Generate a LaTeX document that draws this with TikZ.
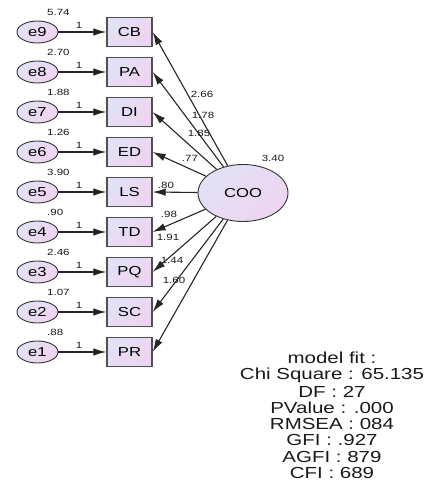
\documentclass[tikz,border=0pt]{standalone}
\usepackage{fontspec}
\setmainfont{Liberation Sans}
\usetikzlibrary{shapes.geometric,arrows.meta}
\newcommand{\wx}[1]{\scalebox{1.28}[1]{#1}}
\definecolor{boxA}{RGB}{226,226,246}
\definecolor{boxB}{RGB}{238,212,240}
\definecolor{edgeG}{RGB}{80,80,80}
\tikzset{
  obs/.style={draw=edgeG, line width=1.3pt, rectangle, minimum width=45pt, minimum height=29pt, inner sep=0pt,
    shading=axis, left color=boxA, right color=boxB, shading angle=45, font=\fontsize{13}{13}\selectfont},
  err/.style={draw=black!80, line width=0.9pt, ellipse, minimum width=41pt, minimum height=22pt, inner sep=0pt,
    shading=axis, left color=boxA, right color=boxB, shading angle=45, font=\fontsize{13}{13}\selectfont},
  lat/.style={draw=black!80, line width=0.9pt, ellipse, minimum width=90pt, minimum height=57pt, inner sep=0pt,
    shading=axis, left color=boxA, right color=boxB, shading angle=45, font=\fontsize{13}{13}\selectfont},
  arr/.style={draw=black!85, line width=1.1pt, -{Latex[length=13pt,width=7.5pt]}},
  small/.style={font=\fontsize{9}{9}\selectfont, inner sep=0pt, text=black!90},
  fit/.style={font=\fontsize{16}{16}\selectfont, inner sep=0pt, text=black!90},
}
\begin{document}
\begin{tikzpicture}[x=1pt,y=-1pt]
\useasboundingbox (0,0) rectangle (427,481);
% rows
\foreach \name/\lab/\ename/\elab/\var/\k in {CB/CB/e9/e9/5.74/0, PA/PA/e8/e8/2.70/1, DI/DI/e7/e7/1.88/2, ED/ED/e6/e6/1.26/3, LS/LS/e5/e5/3.90/4, TD/TD/e4/e4/.90/5, PQ/PQ/e3/e3/2.46/6, SC/SC/e2/e2/1.07/7, PR/PR/e1/e1/.88/8}{
  \node[obs] (\name) at (129.5, 32+40*\k) {\wx{\lab}};
  \node[err] (\ename) at (37.5, 32+40*\k) {\wx{\elab}};
  \node[small, anchor=west] (v\ename) at (47, 12+40*\k) {\wx{\var}};
  \node[small] (one\ename) at (79, 25+40*\k) {\wx{1}};
  \draw[arr] (\ename) -- (\name);
}
\node[lat] (COO) at (243,193) {\wx{COO}};
\node[small] (vCOO) at (273,158) {\wx{3.40}};
\foreach \t in {CB,PA,DI,ED,LS,TD,PQ,SC,PR}{
  \draw[arr] (COO) -- (\t.east);
}
\node[small] (l1) at (202,94) {\wx{2.66}};
\node[small] (l2) at (203,115) {\wx{1.78}};
\node[small] (l3) at (199,133) {\wx{1.85}};
\node[small] (l4) at (190,158) {\wx{.77}};
\node[small] (l5) at (166,185) {\wx{.80}};
\node[small] (l6) at (169,214) {\wx{.98}};
\node[small] (l7) at (168,237) {\wx{1.91}};
\node[small] (l8) at (172,260) {\wx{1.44}};
\node[small] (l9) at (174,280) {\wx{1.60}};
% model fit
\node[fit] (m0) at (332,358) {\wx{model fit :}};
\node[fit] (m1) at (332,375) {\wx{Chi Square : 65.135}};
\node[fit] (m2) at (332,392) {\wx{DF : 27}};
\node[fit] (m3) at (332,408) {\wx{PValue : .000}};
\node[fit] (m4) at (332,424) {\wx{RMSEA : 084}};
\node[fit] (m5) at (332,440) {\wx{GFI : .927}};
\node[fit] (m6) at (332,457) {\wx{AGFI : 879}};
\node[fit] (m7) at (332,473) {\wx{CFI : 689}};
\end{tikzpicture}
\end{document}
